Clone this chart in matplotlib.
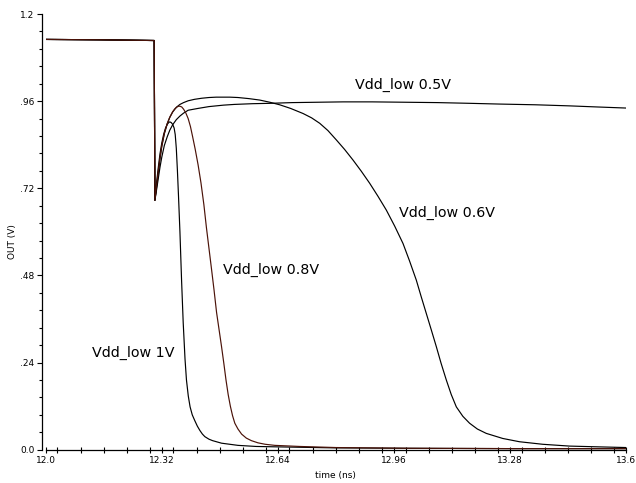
import numpy as np
import matplotlib.pyplot as plt
from matplotlib.ticker import MultipleLocator, FixedLocator

# time (ns) / OUT (V), one pair of lists per curve
t_common = [12.0, 12.15, 12.299, 12.301]
v_common = [1.130, 1.129, 1.127, 0.687]

t_1v = [12.301, 12.305, 12.310, 12.315, 12.320, 12.325, 12.330, 12.335, 12.339,
        12.342, 12.346, 12.350, 12.354, 12.357, 12.360, 12.363, 12.366, 12.370,
        12.3745, 12.379, 12.384, 12.388, 12.393, 12.398, 12.404, 12.411, 12.418,
        12.425, 12.432, 12.4387, 12.45, 12.46, 12.4847, 12.53, 12.58, 12.6315,
        12.8, 13.0, 13.3, 13.6]
v_1v = [0.687, 0.730, 0.775, 0.815, 0.845, 0.868, 0.885, 0.896, 0.901,
        0.903, 0.901, 0.896, 0.886, 0.868, 0.830, 0.770, 0.700, 0.600,
        0.467, 0.350, 0.250, 0.192, 0.148, 0.118, 0.096, 0.080, 0.065,
        0.053, 0.043, 0.036, 0.029, 0.025, 0.018, 0.012, 0.009, 0.008,
        0.005, 0.004, 0.003, 0.003]

t_08v = [12.301, 12.305, 12.310, 12.315, 12.320, 12.327, 12.335, 12.342, 12.350,
         12.356, 12.362, 12.366, 12.370, 12.375, 12.380, 12.386, 12.3927, 12.399,
         12.405, 12.412, 12.420, 12.428, 12.436, 12.443, 12.450, 12.457, 12.464,
         12.471, 12.478, 12.4847, 12.491, 12.497, 12.503, 12.509, 12.515, 12.5213,
         12.530, 12.540, 12.553, 12.567, 12.585, 12.605, 12.6315, 12.7, 12.8,
         13.0, 13.3, 13.6]
v_08v = [0.687, 0.725, 0.765, 0.805, 0.838, 0.872, 0.898, 0.916, 0.931,
         0.939, 0.944, 0.946, 0.946, 0.944, 0.938, 0.928, 0.912, 0.890,
         0.862, 0.828, 0.785, 0.735, 0.675, 0.612, 0.555, 0.498, 0.440,
         0.378, 0.330, 0.284, 0.238, 0.192, 0.152, 0.120, 0.094, 0.073,
         0.057, 0.043, 0.032, 0.025, 0.019, 0.015, 0.012, 0.009, 0.006,
         0.004, 0.003, 0.003]

t_06v = [12.301, 12.305, 12.310, 12.315, 12.320, 12.327, 12.335, 12.342, 12.350,
         12.360, 12.370, 12.380, 12.3927, 12.41, 12.43, 12.45, 12.47, 12.49,
         12.5076, 12.53, 12.56, 12.59, 12.6177, 12.645, 12.675, 12.7094, 12.733,
         12.7554, 12.778, 12.8014, 12.824, 12.847, 12.870, 12.893, 12.916, 12.939,
         12.962, 12.985, 13.003, 13.0217, 13.035, 13.049, 13.063, 13.0768, 13.09,
         13.1044, 13.118, 13.132, 13.150, 13.1685, 13.19, 13.2145, 13.26, 13.306,
         13.37, 13.444, 13.52, 13.6]
v_06v = [0.687, 0.718, 0.758, 0.800, 0.835, 0.870, 0.898, 0.915, 0.930,
         0.943, 0.951, 0.956, 0.961, 0.965, 0.968, 0.970, 0.971, 0.971,
         0.971, 0.970, 0.967, 0.963, 0.957, 0.950, 0.940, 0.926, 0.914,
         0.899, 0.879, 0.853, 0.827, 0.798, 0.767, 0.734, 0.698, 0.660,
         0.616, 0.568, 0.520, 0.467, 0.422, 0.376, 0.330, 0.284, 0.238,
         0.192, 0.152, 0.118, 0.092, 0.073, 0.057, 0.045, 0.031, 0.022,
         0.015, 0.010, 0.008, 0.006]

t_05v = [12.301, 12.305, 12.310, 12.315, 12.320, 12.327, 12.335, 12.342, 12.350,
         12.360, 12.370, 12.380, 12.3927, 12.42, 12.45, 12.49, 12.52, 12.57,
         12.6177, 12.68, 12.75, 12.82, 12.90, 12.99, 13.08, 13.17, 13.25,
         13.35, 13.444, 13.52, 13.6]
v_05v = [0.687, 0.712, 0.745, 0.778, 0.806, 0.838, 0.862, 0.880, 0.895,
         0.909, 0.919, 0.927, 0.935, 0.940, 0.945, 0.949, 0.951, 0.953,
         0.954, 0.956, 0.957, 0.958, 0.958, 0.957, 0.956, 0.954, 0.952,
         0.950, 0.947, 0.944, 0.941]

labels = ["Vdd_low 1V", "Vdd_low 0.8V", "Vdd_low 0.6V", "Vdd_low 0.5V"]
label_t = [12.127, 12.490, 12.974, 12.852]
label_v = [0.267, 0.494, 0.653, 1.004]

xticks = [12.0, 12.32, 12.64, 12.96, 13.28, 13.6]
xtick_labels = ["12.0", "12.32", "12.64", "12.96", "13.28", "13.6"]
yticks = [0.0, 0.24, 0.48, 0.72, 0.96, 1.2]
ytick_labels = ["0.0", ".24", ".48", ".72", ".96", "1.2"]

fig = plt.figure(figsize=(6.36, 4.83), dpi=100)
ax = fig.add_axes([0.0719, 0.0689, 0.9125, 0.9021])

lw = 0.85
for t, v, c in [(t_05v, v_05v, "black"), (t_06v, v_06v, "black"),
                (t_1v, v_1v, "black"), (t_08v, v_08v, "#4a1208")]:
    ax.plot(t_common + t[1:], v_common + v[1:], color=c, lw=lw)

for s, tx, vy in zip(labels, label_t, label_v):
    ax.text(tx, vy, s, fontsize=10.3, ha="left", va="center", color="black")

ax.set_xlim(12.0, 13.6)
ax.set_ylim(0.0, 1.2)
ax.xaxis.set_major_locator(FixedLocator(xticks))
ax.set_xticklabels(xtick_labels)
ax.xaxis.set_minor_locator(MultipleLocator(0.064))
ax.yaxis.set_major_locator(FixedLocator(yticks))
ax.set_yticklabels(ytick_labels)
ax.yaxis.set_minor_locator(MultipleLocator(0.048))

for side in ["top", "right"]:
    ax.spines[side].set_visible(False)
ax.spines["left"].set_position(("outward", 3))
ax.spines["left"].set_linewidth(0.9)
ax.spines["bottom"].set_linewidth(0.9)

ax.tick_params(axis="x", which="major", direction="inout", length=5, width=0.8,
               labelsize=6.5, pad=2)
ax.tick_params(axis="x", which="minor", direction="inout", length=4, width=0.8)
ax.tick_params(axis="y", which="major", direction="out", length=3.5, width=0.8,
               labelsize=6.5, pad=1.5)
ax.tick_params(axis="y", which="minor", direction="out", length=2.5, width=0.8)

ax.set_xlabel("time (ns)", fontsize=6.5)
ax.xaxis.set_label_coords(0.4985, -0.048)
ax.set_ylabel("OUT (V)", fontsize=6.5)
ax.yaxis.set_label_coords(-0.049, 0.477)

fig.savefig("out.png", dpi=100)
plt.close(fig)
